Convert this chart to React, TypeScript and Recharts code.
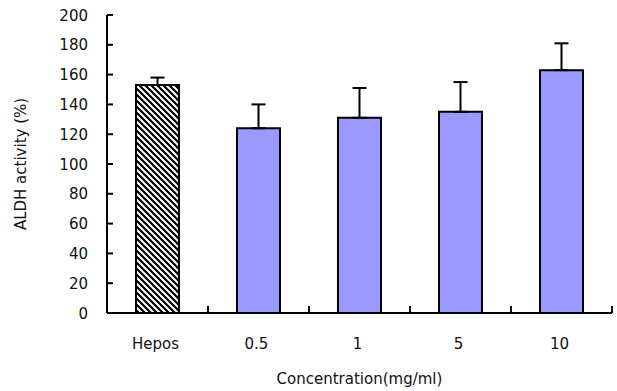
import { BarChart, Bar, XAxis, YAxis, ErrorBar, Cell } from 'recharts';

const CATEGORIES = ['Hepos', '0.5', '1', '5', '10'];
const ACTIVITY = [153, 124, 131, 135, 163];
const SD = [5, 16, 20, 20, 18];
const Y_TICKS = [0, 20, 40, 60, 80, 100, 120, 140, 160, 180, 200];

const data = CATEGORIES.map((name, i) => ({
  name,
  activity: ACTIVITY[i],
  err: [0, SD[i]],
}));

const FONT = '"DejaVu Sans", sans-serif';

function YTick({ x, y, payload }: any) {
  return (
    <g>
      <line x1={x} x2={x + 6} y1={y} y2={y} stroke="#000" strokeWidth={2} />
      <text x={x - 19} y={y} dy={5.5} textAnchor="end" fontSize={15} fill="#111" fontFamily={FONT}>
        {payload.value}
      </text>
    </g>
  );
}

function XTick({ x, y, payload }: any) {
  const half = payload.offset ?? 50.5;
  const right = x + half;
  return (
    <g>
      <line x1={right} x2={right} y1={y} y2={y - 7} stroke="#000" strokeWidth={2} />
      <text x={x - 2} y={y + 36} textAnchor="middle" fontSize={15} fill="#111" fontFamily={FONT}>
        {payload.value}
      </text>
    </g>
  );
}

export default function App() {
  return (
    <div style={{ position: 'absolute', left: 0, top: 0, background: '#fff', fontFamily: FONT }}>
      <svg width={0} height={0} style={{ position: 'absolute' }}>
        <defs>
          <pattern id="hatch" width={6} height={6} patternUnits="userSpaceOnUse">
            <rect width={6} height={6} fill="#fff" />
            <path d="M-1,-1 L7,7 M5,-1 L7,1 M-1,5 L1,7" stroke="#000" strokeWidth={2.2} />
          </pattern>
        </defs>
      </svg>
      <BarChart
        width={617}
        height={391}
        data={data}
        margin={{ top: 15, right: 5, bottom: 0, left: 0 }}
        barSize={43}
      >
        <XAxis
          dataKey="name"
          height={78}
          tickLine={false}
          tickSize={0}
          tickMargin={0}
          axisLine={{ stroke: '#000', strokeWidth: 2 }}
          tick={<XTick />}
          interval={0}
          label={{
            value: 'Concentration(mg/ml)',
            position: 'insideBottom',
            offset: 7,
            fontSize: 15,
            fill: '#111',
          }}
        />
        <YAxis
          width={107}
          domain={[0, 200]}
          ticks={Y_TICKS}
          interval={0}
          tickLine={false}
          tickSize={0}
          tickMargin={0}
          axisLine={{ stroke: '#000', strokeWidth: 2 }}
          tick={<YTick />}
          label={{
            value: 'ALDH activity (%)',
            angle: -90,
            position: 'insideLeft',
            offset: 21,
            fontSize: 15,
            fill: '#111',
            style: { textAnchor: 'middle' },
          }}
        />
        <Bar dataKey="activity" stroke="#000" strokeWidth={2} isAnimationActive={false}>
          {data.map((d, i) => (
            <Cell key={d.name} fill={i === 0 ? 'url(#hatch)' : '#9999FF'} />
          ))}
          <ErrorBar dataKey="err" width={7} stroke="#000" strokeWidth={2} direction="y" />
        </Bar>
      </BarChart>
    </div>
  );
}
